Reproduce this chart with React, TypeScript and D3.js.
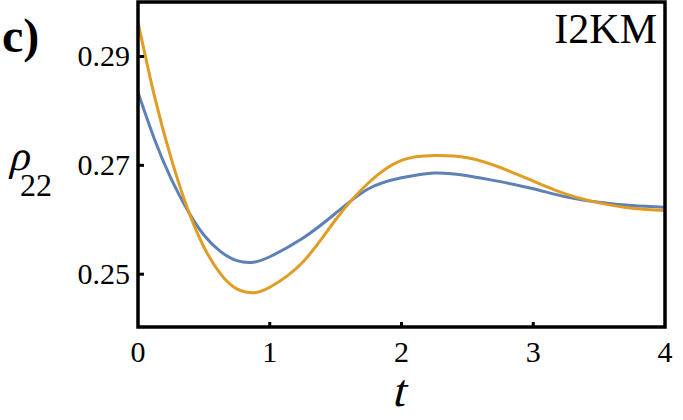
import React, { useEffect, useRef } from 'react';
import * as d3 from 'd3';

// time grid (t)
const times = [0, 0.125, 0.25, 0.375, 0.5, 0.625, 0.75, 0.875, 1, 1.25, 1.5, 1.75, 2, 2.25, 2.5, 2.75, 3, 3.25, 3.5, 3.75, 4];

// rho_22 values
const blueSeries = [0.2834, 0.2748, 0.2676, 0.2618, 0.2572, 0.2542, 0.2525, 0.2522, 0.2532, 0.2566, 0.2612, 0.2657, 0.2677, 0.2686, 0.2681, 0.2670, 0.2657, 0.2642, 0.2632, 0.2626, 0.2623];
const orangeSeries = [0.2963, 0.2827, 0.2714, 0.2621, 0.2550, 0.2501, 0.2473, 0.2466, 0.2476, 0.2522, 0.2600, 0.2668, 0.2709, 0.2718, 0.2714, 0.2696, 0.2671, 0.2647, 0.2631, 0.2621, 0.2617];

const xTicks = [0, 1, 2, 3, 4];
const yTicks = [0.25, 0.27, 0.29];

const App = () => {
  const svgRef = useRef<SVGSVGElement>(null);

  useEffect(() => {
    const svg = d3.select(svgRef.current);
    svg.selectAll('*').remove();

    const width = 683;
    const height = 420;
    const left = 138, right = 665, top = 2, bottom = 327;
    const font = '"Liberation Serif", "Times New Roman", serif';

    svg.attr('width', width).attr('height', height);

    const x = d3.scaleLinear().domain([0, 4]).range([left, right]);
    const y = d3.scaleLinear().domain([0.2403, 0.3]).range([bottom, top]);

    const line = d3.line<number>()
      .x((d, i) => x(times[i]))
      .y(d => y(d))
      .curve(d3.curveNatural);

    const plot = svg.append('g');
    plot.append('clipPath').attr('id', 'clip')
      .append('rect')
      .attr('x', left).attr('y', top)
      .attr('width', right - left).attr('height', bottom - top);

    const curves = plot.append('g').attr('clip-path', 'url(#clip)');
    curves.append('path')
      .attr('d', line(blueSeries))
      .attr('fill', 'none')
      .attr('stroke', '#5E81B5')
      .attr('stroke-width', 3);
    curves.append('path')
      .attr('d', line(orangeSeries))
      .attr('fill', 'none')
      .attr('stroke', '#E19C24')
      .attr('stroke-width', 3);

    // frame
    svg.append('rect')
      .attr('x', left).attr('y', top)
      .attr('width', right - left).attr('height', bottom - top)
      .attr('fill', 'none')
      .attr('stroke', 'black')
      .attr('stroke-width', 3.5);

    // x ticks
    svg.selectAll('.xtick')
      .data(xTicks.filter(d => d > 0 && d < 4))
      .enter().append('line')
      .attr('x1', d => x(d)).attr('x2', d => x(d))
      .attr('y1', bottom).attr('y2', bottom - 5)
      .attr('stroke', 'black').attr('stroke-width', 3);

    svg.selectAll('.xlabel')
      .data(xTicks)
      .enter().append('text')
      .attr('x', d => x(d))
      .attr('y', 362)
      .attr('text-anchor', 'middle')
      .style('font-family', font)
      .style('font-size', '30px')
      .text(d => d);

    // y ticks
    svg.selectAll('.ytick')
      .data(yTicks)
      .enter().append('line')
      .attr('x1', left).attr('x2', left + 6)
      .attr('y1', d => y(d)).attr('y2', d => y(d))
      .attr('stroke', 'black').attr('stroke-width', 3);

    svg.selectAll('.ylabel')
      .data(yTicks)
      .enter().append('text')
      .attr('x', 130)
      .attr('y', d => y(d) + 10)
      .attr('text-anchor', 'end')
      .style('font-family', font)
      .style('font-size', '30px')
      .text(d => d.toFixed(2));

    // panel label
    svg.append('text')
      .attr('x', 2).attr('y', 52)
      .style('font-family', font)
      .style('font-size', '48px')
      .style('font-weight', 'bold')
      .text('c)');

    svg.append('text')
      .attr('x', 657).attr('y', 43)
      .attr('text-anchor', 'end')
      .style('font-family', font)
      .style('font-size', '42px')
      .text('I2KM');

    // axis labels (italic faked with a skew, serif italic face is not available)
    svg.append('text')
      .attr('transform', 'translate(8,170) skewX(-14)')
      .style('font-family', font)
      .style('font-size', '42px')
      .text('ρ');
    svg.append('text')
      .attr('x', 20).attr('y', 196)
      .style('font-family', font)
      .style('font-size', '32px')
      .text('22');

    svg.append('text')
      .attr('transform', 'translate(398,406) skewX(-14)')
      .attr('text-anchor', 'middle')
      .style('font-family', font)
      .style('font-size', '46px')
      .text('t');
  }, []);

  return (
    <svg ref={svgRef} style={{ position: 'absolute', left: 0, top: 0 }}></svg>
  );
};

export default App;
